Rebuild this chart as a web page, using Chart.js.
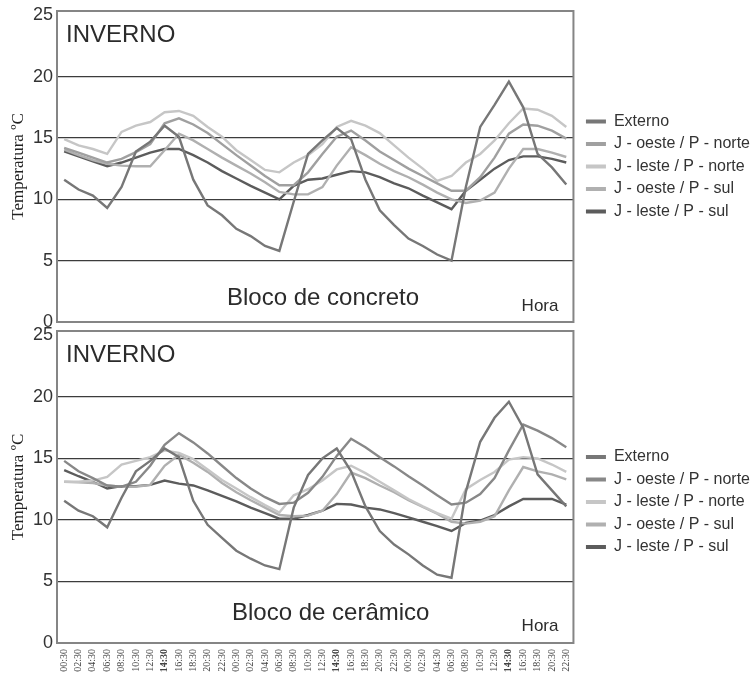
<!DOCTYPE html>
<html><head><meta charset="utf-8">
<script src="https://cdn.jsdelivr.net/npm/chart.js@4"></script>
<style>
body{margin:0;background:#fff;width:755px;height:673px;overflow:hidden;position:relative}
#w1{position:absolute;left:0;top:0;width:755px;height:340px;z-index:2;pointer-events:none}
#w2{position:absolute;left:0;top:322px;width:755px;height:351px;z-index:1}
</style></head><body>
<div id="w2"><canvas id="c2" width="755" height="351"></canvas></div>
<div id="w1"><canvas id="c1" width="755" height="340"></canvas></div>
<script>
const hours = ["00:30","02:30","04:30","06:30","08:30","10:30","12:30","14:30","16:30","18:30","20:30","22:30",
               "00:30","02:30","04:30","06:30","08:30","10:30","12:30","14:30","16:30","18:30","20:30","22:30",
               "00:30","02:30","04:30","06:30","08:30","10:30","12:30","14:30","16:30","18:30","20:30","22:30"];
const seriesNames = ["Externo","J - oeste / P - norte","J - leste / P - norte","J - oeste / P - sul","J - leste / P - sul"];
const yTicks = [0,5,10,15,20,25];

// Bloco de concreto
const externoC    = [11.6,10.8,10.3,9.3,11.0,13.9,14.7,16.0,15.1,11.6,9.5,8.7,7.6,7.0,6.2,5.8,9.8,13.7, 14.8,15.8,14.9,11.6,9.1,7.9,6.8,6.2,5.5,5.0,11.0,15.9,17.7,19.6,17.5,13.7,12.6,11.2];
const oesteNorteC = [14.2,13.8,13.4,13.0,13.3,13.85,14.5,16.2,16.6,16.1,15.4,14.5,13.6,12.75,11.9,11.15,11.15,12.2, 13.7,15.1,15.6,14.8,13.9,13.2,12.5,11.9,11.3,10.7,10.7,11.8,13.4,15.35,16.1,16.0,15.6,14.95];
const lesteNorteC = [14.9,14.4,14.1,13.7,15.5,16.0,16.3,17.1,17.2,16.8,15.9,15.1,14.0,13.2,12.4,12.2,13.0,13.6, 14.5,15.9,16.4,16.0,15.4,14.4,13.4,12.5,11.5,11.9,13.0,13.7,14.8,16.2,17.4,17.3,16.8,15.9];
const oesteSulC   = [14.05,13.6,13.2,12.9,12.75,12.7,12.7,14.0,15.35,14.8,14.1,13.4,12.75,12.1,11.4,10.6,10.4,10.4, 11.0,12.75,14.25,13.6,12.9,12.3,11.8,11.2,10.55,10.0,9.7,9.9,10.55,12.5,14.1,14.1,13.8,13.45];
const lesteSulC   = [13.9,13.5,13.1,12.7,13.0,13.4,13.8,14.1,14.1,13.6,13.0,12.3,11.7,11.1,10.55,10.0,11.1,11.6, 11.7,12.0,12.3,12.2,11.8,11.3,10.9,10.3,9.75,9.2,10.7,11.6,12.5,13.2,13.5,13.5,13.3,13.0];

// Bloco de cerâmico
const externoK    = [11.55,10.75,10.3,9.4,11.8,13.95,14.8,15.8,15.1,11.55,9.6,8.55,7.5,6.85,6.3,6.0,11.0,13.65, 15.0,15.8,13.95,11.1,9.1,8.0,7.2,6.3,5.55,5.3,12.3,16.35,18.3,19.6,17.5,13.7,12.4,11.1];
const oesteNorteK = [14.8,13.95,13.4,12.8,12.7,13.1,14.4,16.1,17.05,16.3,15.4,14.4,13.4,12.55,11.85,11.3,11.4,12.2, 13.5,15.2,16.6,15.9,15.1,14.35,13.55,12.8,12.0,11.25,11.4,12.1,13.4,15.65,17.75,17.25,16.65,15.9];
const lesteNorteK = [13.1,13.1,13.2,13.5,14.5,14.8,15.1,15.65,15.45,14.95,14.1,13.25,12.55,11.85,11.2,10.6,12.0,12.5, 13.2,14.1,14.4,13.8,13.1,12.4,11.7,11.1,10.55,10.1,12.5,13.25,13.9,14.9,15.1,15.0,14.5,13.9];
const oesteSulK   = [13.1,13.05,13.0,12.8,12.7,12.7,12.85,14.4,15.3,14.65,13.9,13.0,12.25,11.6,11.0,10.4,10.3,10.35, 10.75,12.1,13.85,13.4,12.8,12.25,11.6,11.05,10.5,9.85,9.7,9.85,10.3,12.4,14.3,13.95,13.7,13.3];
const lesteSulK   = [14.05,13.55,13.1,12.55,12.75,12.75,12.85,13.2,12.95,12.8,12.4,11.95,11.5,11.0,10.55,10.1,10.1,10.4, 10.75,11.3,11.25,11.0,10.85,10.55,10.2,9.85,9.5,9.1,9.75,9.95,10.4,11.1,11.7,11.7,11.7,11.25];

const colorsC = ["#777777","#a0a0a0","#c6c6c6","#b0b0b0","#5c5c5c"];
const colorsK = ["#777777","#888888","#c6c6c6","#b0b0b0","#5c5c5c"];

const frame = {
  id:'frame',
  afterLayout(chart, args, o){
    if (chart.legend) { chart.legend.left += o.legendShift; chart.legend.right += o.legendShift; }
  },
  beforeDatasetsDraw(chart, args, o){
    const {ctx, chartArea:a} = chart;
    ctx.save();
    ctx.fillStyle = '#2b2b2b';
    ctx.textBaseline = 'middle';
    ctx.font = '24px "Liberation Sans", Arial, sans-serif';
    ctx.textAlign = 'left';
    ctx.fillText(o.title, a.left + 9, a.top + 24);
    ctx.fillText(o.sub, a.left + o.subX, a.top + o.subY);
    ctx.font = '17px "Liberation Sans", Arial, sans-serif';
    ctx.textAlign = 'right';
    ctx.fillText('Hora', a.right - 15, a.top + 295);
    ctx.restore();
  },
  afterDraw(chart){
    const {ctx, chartArea:a} = chart;
    ctx.save();
    ctx.strokeStyle = '#858585';
    ctx.lineWidth = 2;
    ctx.strokeRect(a.left, a.top, a.right - a.left, a.bottom - a.top);
    ctx.restore();
  }
};

function makeChart(id, series, colors, showX, pad, texts){
  const datasets = series.map((d,i)=>({
    label: seriesNames[i], data: d, borderColor: colors[i], backgroundColor: colors[i],
    borderWidth: 2.4, pointRadius: 0, tension: 0, fill:false
  }));
  return new Chart(document.getElementById(id), {
    type:'line',
    data:{labels: hours, datasets},
    plugins:[frame],
    options:{
      responsive:false, animation:false, events:[],
      layout:{padding: pad, autoPadding:false},
      plugins:{
        tooltip:{enabled:false},
        frame: texts,
        legend:{
          position:'right', align:'center',
          labels:{
            boxWidth:20, boxHeight:4, padding:6.5, color:'#333',
            font:{family:'"Liberation Sans", Arial, sans-serif', size:16},
            generateLabels: ch => Chart.defaults.plugins.legend.labels.generateLabels(ch).map(l => Object.assign(l, {lineWidth:0, fillStyle: ch.data.datasets[l.datasetIndex].borderColor}))
          }
        }
      },
      scales:{
        x:{
          display: showX, offset:true,
          grid:{display:false, drawTicks:false}, border:{display:false},
          afterFit: s => { if (showX) s.height = 30; s.paddingLeft = 0; s.paddingRight = 0; },
          ticks:{autoSkip:false, maxRotation:90, minRotation:90, padding:6, color:'#444',
            font: c => ({family:'"Liberation Serif", "Times New Roman", serif', size:10, weight: hours[c.index]==='14:30' ? 'bold' : 'normal'})}
        },
        y:{
          min:0, max:25.35,
          afterFit: s => { s.width = 57; s.paddingTop = 9; s.paddingBottom = 10; },
          afterBuildTicks: s => { s.ticks = yTicks.map(v => ({value:v})); },
          ticks:{color:'#333', padding:4, font:{family:'"Liberation Sans", Arial, sans-serif', size:18}},
          grid:{drawTicks:false, lineWidth:1.3, color: c => (c.tick && (c.tick.value===0 || c.tick.value===25)) ? 'rgba(0,0,0,0)' : '#3c3c3c'},
          border:{display:false},
          title:{display:true, text:'Temperatura ºC', color:'#222', padding:{top:8,bottom:0},
            font:{family:'"Liberation Serif", "Times New Roman", serif', size:17}}
        }
      }
    }
  });
}

const c1 = makeChart('c1', [externoC, oesteNorteC, lesteNorteC, oesteSulC, lesteSulC], colorsC, false,
  {top:11, bottom:18, left:0, right:1}, {title:'INVERNO', sub:'Bloco de concreto', subX:170, subY:287, legendShift:6});
const c2 = makeChart('c2', [externoK, oesteNorteK, lesteNorteK, oesteSulK, lesteSulK], colorsK, true,
  {top:9, bottom:0, left:0, right:1}, {title:'INVERNO', sub:'Bloco de cerâmico', subX:175, subY:282, legendShift:6});
</script>
</body></html>
